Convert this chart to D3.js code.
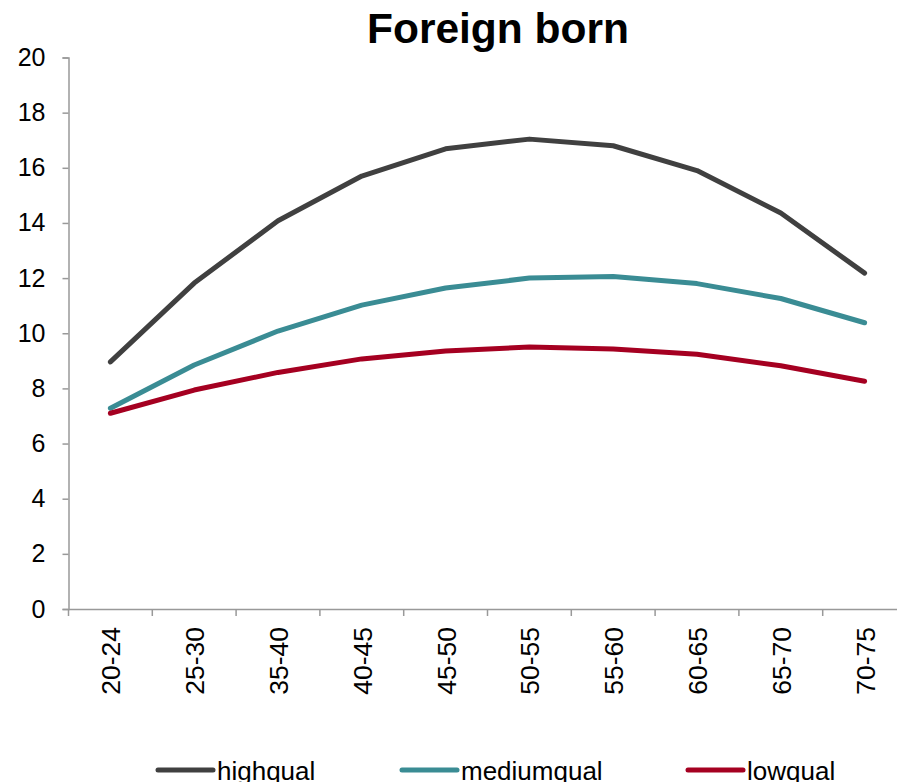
<!DOCTYPE html>
<html><head><meta charset="utf-8">
<script src="https://cdn.jsdelivr.net/npm/d3@7"></script>
<style>body{margin:0;background:#fff}svg{display:block;font-family:"Liberation Sans",Arial,sans-serif}</style>
</head><body><svg id="c" width="897" height="782"></svg>
<script>
const categories = ["20-24","25-30","35-40","40-45","45-50","50-55","55-60","60-65","65-70","70-75"];
const highqual   = [8.96, 11.82, 14.08, 15.70, 16.69, 17.04, 16.80, 15.90, 14.36, 12.18];
const mediumqual = [7.28, 8.85, 10.08, 11.02, 11.64, 12.00, 12.06, 11.80, 11.26, 10.38];
const lowqual    = [7.10, 7.94, 8.58, 9.07, 9.36, 9.50, 9.43, 9.24, 8.82, 8.26];
const yTicks = [0,2,4,6,8,10,12,14,16,18,20];
const seriesNames = ["highqual","mediumqual","lowqual"];
const colors = ["#404040","#3a8c94","#a50021"];
const series = [highqual, mediumqual, lowqual];

const svg = d3.select("#c");
const x = d3.scaleBand().domain(categories).range([68.5, 906.5]);
const y = d3.scaleLinear().domain([0,20]).range([609, 57.5]);

// title
svg.append("text").attr("x", 498).attr("y", 43).attr("text-anchor","middle")
  .attr("font-size", 42.5).attr("font-weight","bold").text("Foreign born");

// y axis
const ya = svg.append("g").attr("transform","translate(68.5,0)")
  .call(d3.axisLeft(y).tickValues(yTicks).tickSize(6).tickPadding(17).tickSizeOuter(6));
ya.selectAll("path,line").attr("stroke","#999").attr("stroke-width",1.5);
ya.selectAll("text").attr("font-size",25).attr("fill","#000").attr("font-family","Liberation Sans, Arial, sans-serif");

// x axis
const xa = svg.append("g").attr("transform","translate(0,609)")
  .call(d3.axisBottom(x).tickSize(0).tickSizeOuter(0).tickFormat(""));
xa.selectAll("path").attr("stroke","#999").attr("stroke-width",1.5);
const bw = x.bandwidth();
xa.selectAll(".sep").data(categories).enter().append("line")
  .attr("x1", d => x(d)).attr("x2", d => x(d)).attr("y1",0).attr("y2",7)
  .attr("stroke","#999").attr("stroke-width",1.5);
xa.selectAll(".lbl").data(categories).enter().append("text")
  .attr("transform", d => `translate(${x(d)+bw/2+10},18) rotate(-90)`)
  .attr("text-anchor","end").attr("font-size",26.5).attr("fill","#000").text(d => d);

// lines
const line = d3.line().x((d,i) => x(categories[i]) + bw/2).y(d => y(d));
series.forEach((s,k) => {
  svg.append("path").datum(s).attr("d", line).attr("fill","none")
    .attr("stroke", colors[k]).attr("stroke-width",5).attr("stroke-linecap","round").attr("stroke-linejoin","round");
});

// legend
const legX = [158, 402, 688];
seriesNames.forEach((n,k) => {
  const g = svg.append("g").attr("transform",`translate(${legX[k]},770)`);
  g.append("line").attr("x1",0).attr("x2",55).attr("y1",0).attr("y2",0)
    .attr("stroke",colors[k]).attr("stroke-width",5).attr("stroke-linecap","round");
  g.append("text").attr("x",59).attr("y",10).attr("font-size",26).attr("fill","#000").text(n);
});
</script></body></html>
